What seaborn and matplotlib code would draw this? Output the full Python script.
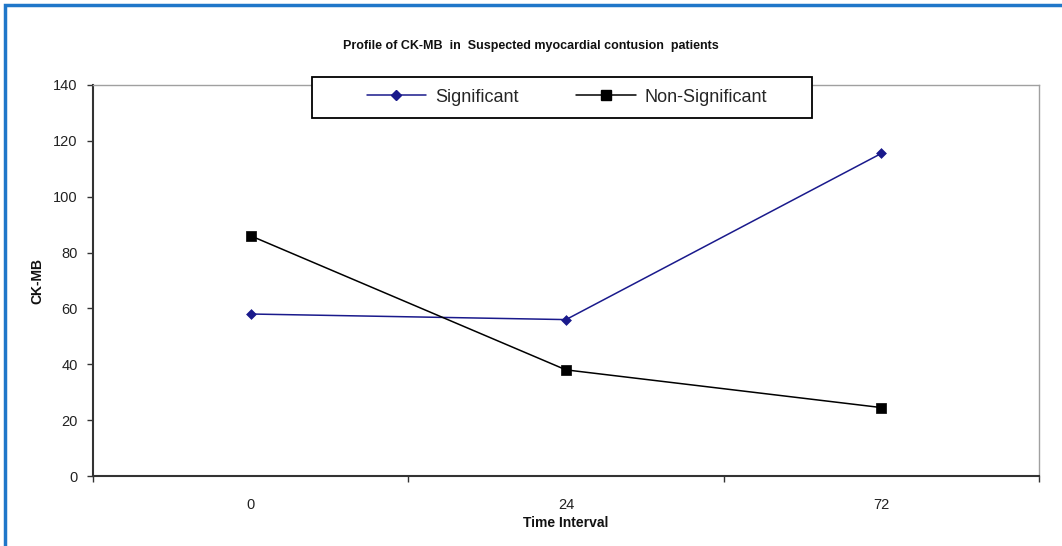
import matplotlib
matplotlib.use("Agg")
import matplotlib.pyplot as plt
import seaborn as sns
import pandas as pd
from matplotlib.patches import Rectangle
from matplotlib.ticker import FixedLocator
from matplotlib.lines import Line2D

sns.set_theme(style="white")
plt.rcParams['font.family'] = ['Liberation Sans', 'DejaVu Sans']

time_labels = ["0", "24", "72"]
significant = [58, 56, 115.5]
non_significant = [86, 38, 24.5]
series_names = ["Significant", "Non-Significant"]

df = pd.DataFrame({
    "pos": list(range(len(time_labels))) * 2,
    "value": significant + non_significant,
    "series": [series_names[0]] * 3 + [series_names[1]] * 3,
})

W, H = 1062, 546
fig = plt.figure(figsize=(W / 100, H / 100), dpi=100)
fig.patch.set_facecolor("white")
fig.patches.append(Rectangle((5 / W, -0.05), 1.2, (H - 5) / H + 0.05, transform=fig.transFigure,
                             fill=False, edgecolor="#1f77c9", lw=2.5, zorder=0))

ax = fig.add_axes([93 / W, 70 / H, 946 / W, 391 / H])
colors = {series_names[0]: "#1a1a8c", series_names[1]: "black"}
sns.lineplot(data=df, x="pos", y="value", hue="series", palette=colors,
             ax=ax, legend=False, lw=1.1)
for name, mk, ms in [(series_names[0], "D", 5), (series_names[1], "s", 7)]:
    sub = df[df.series == name]
    sns.scatterplot(x=sub["pos"], y=sub["value"], marker=mk, color=colors[name], s=ms ** 2,
                    edgecolor=colors[name], linewidth=0.5, ax=ax, zorder=5)

ax.set_xlim(-0.5, 2.5)
ax.set_ylim(0, 140)
ax.set_yticks(range(0, 141, 20))
ax.xaxis.set_major_locator(FixedLocator([-0.5, 0.5, 1.5, 2.5]))
ax.set_xticklabels([])
ax.xaxis.set_minor_locator(FixedLocator([0, 1, 2]))
ax.set_xticklabels(time_labels, minor=True)
ax.tick_params(axis="x", which="major", direction="out", length=4, width=1, color="#333333", bottom=True)
ax.tick_params(axis="x", which="minor", length=0, pad=16, labelsize=10.5, labelcolor="#222222")
ax.tick_params(axis="y", direction="out", length=4, width=1, color="#333333", left=True,
               labelsize=10.5, labelcolor="#222222", pad=7)

for s in ["top", "right"]:
    ax.spines[s].set_color("#a0a0a0")
    ax.spines[s].set_linewidth(1)
for s in ["left", "bottom"]:
    ax.spines[s].set_color("#333333")
    ax.spines[s].set_linewidth(1.5)

ax.set_xlabel("Time Interval", fontsize=10, fontweight="bold", labelpad=3, color="#111111")
ax.set_ylabel("CK-MB", fontsize=10, fontweight="bold", labelpad=6, color="#111111")
fig.text(0.5, 1 - 46 / H, "Profile of CK-MB  in  Suspected myocardial contusion  patients",
         ha="center", va="center", fontsize=9, fontweight="bold", color="#111111")

# legend box
fig.patches.append(Rectangle((312 / W, 1 - 118 / H), 500 / W, 41 / H, transform=fig.transFigure,
                             facecolor="white", edgecolor="black", lw=1.3, zorder=3))
handles = [Line2D([], [], color=colors[series_names[0]], marker="D", markersize=5, lw=1.1),
           Line2D([], [], color=colors[series_names[1]], marker="s", markersize=7, lw=1.1)]
leg = fig.legend(handles, series_names, loc="center", bbox_to_anchor=(567 / W, 1 - 97 / H),
                 ncol=2, frameon=False, fontsize=13, handlelength=3.3, handletextpad=0.5,
                 columnspacing=3.2, borderpad=0)
leg.set_zorder(4)

fig.savefig("out.png", dpi=100, facecolor="white")
